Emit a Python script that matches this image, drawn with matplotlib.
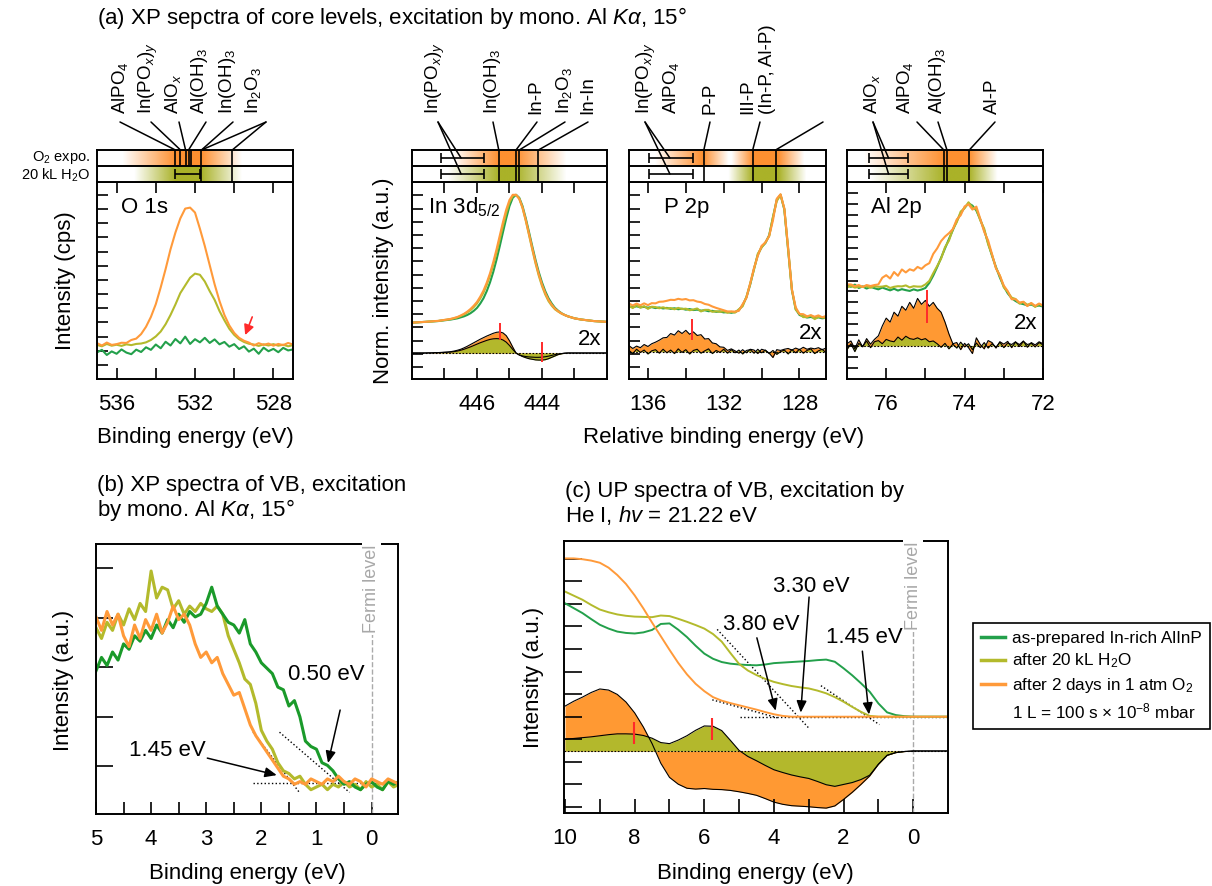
import numpy as np
import matplotlib
matplotlib.use('Agg')
import matplotlib.pyplot as plt
from matplotlib.colors import to_rgb
from matplotlib.lines import Line2D

plt.rcParams['font.family'] = ['Liberation Sans', 'DejaVu Sans']
plt.rcParams['mathtext.fontset'] = 'custom'
plt.rcParams['mathtext.rm'] = 'Liberation Sans'
plt.rcParams['mathtext.it'] = 'Liberation Sans:italic'
plt.rcParams['mathtext.bf'] = 'Liberation Sans:bold'
plt.rcParams['axes.linewidth'] = 1.4

GREEN = '#23a04b'
OLIVE = '#b3ba2c'
ORANGE = '#ff9a3a'
FILL_OR = '#ff9933'
FILL_OL = '#b3b82c'
RED = '#ff2a2a'
FS = 16

# ---------------- data: (a) core levels ----------------
o1s_E = np.linspace(537, 527, 41)
o1s_green = [13.5, 14.8, 12.2, 14.0, 12.8, 15.0, 13.4, 12.6, 14.9, 13.7, 16.1, 14.8, 17.5, 15.6, 18.9,
             17.0, 20.3, 18.1, 21.5, 17.8, 20.2, 18.6, 20.9, 18.3, 20.1, 17.6, 18.8, 16.4, 17.7, 15.2,
             16.6, 13.9, 15.4, 12.8, 15.9, 14.1, 15.3, 13.6, 15.8, 14.5, 15.0]
o1s_olive = [17.3, 16.6, 17.8, 16.9, 17.4, 16.8, 17.6, 17.2, 17.8, 18.0, 18.6, 19.8, 21.6, 24.1, 27.8,
             32.5, 37.8, 43.6, 47.5, 51.4, 53.5, 52.9, 49.5, 44.6, 40.2, 34.5, 29.8, 25.5, 22.4, 20.2,
             18.8, 17.9, 17.5, 16.8, 17.6, 17.0, 17.7, 16.9, 17.4, 16.6, 17.2]
o1s_orange = [18.2, 17.0, 18.5, 17.3, 17.7, 18.4, 18.3, 19.8, 20.5, 22.8, 26.5, 31.5, 38.0, 46.5, 55.8,
              65.8, 74.3, 81.5, 86.5, 87.0, 84.5, 76.3, 67.5, 57.8, 48.1, 39.6, 32.5, 27.2, 23.4, 20.9,
              19.4, 18.5, 17.0, 18.2, 17.3, 18.0, 16.9, 17.8, 17.2, 18.3, 17.5]

in_E = np.linspace(448, 442, 61)
in_green = [28.6, 28.7, 28.8, 28.9, 29.0, 29.1, 29.2, 29.3, 29.4, 29.6, 29.8, 30.0, 30.2, 30.5, 30.8,
            31.3, 31.8, 32.5, 33.4, 34.6, 36.1, 38.3, 41.0, 44.6, 49.0, 54.3, 60.5, 67.4, 74.6, 81.6,
            87.8, 92.0, 93.5, 92.0, 87.8, 81.6, 74.6, 67.4, 60.5, 54.3, 49.0, 44.6, 41.0, 38.3, 36.1,
            34.6, 33.4, 32.5, 31.8, 31.3, 30.8, 30.5, 30.2, 30.0, 29.8, 29.6, 29.4, 29.3, 29.2, 29.1, 29.0]
in_olive = [28.6, 28.7, 28.8, 28.9, 29.0, 29.1, 29.2, 29.35, 29.45, 29.7, 29.95, 30.2, 30.45, 30.85, 31.3,
            32.0, 32.75, 33.75, 34.95, 36.5, 38.35, 40.9, 43.9, 47.8, 52.45, 57.9, 64.15, 71.0, 77.9, 84.35,
            89.7, 92.9, 93.5, 91.5, 86.9, 80.4, 73.15, 65.8, 58.75, 52.5, 47.2, 42.9, 39.55, 37.2, 35.35,
            34.2, 33.2, 32.45, 31.8, 31.3, 30.8, 30.5, 30.2, 30.0, 29.8, 29.6, 29.4, 29.3, 29.2, 29.1, 29.0]
in_orange = [28.6, 28.7, 28.8, 28.9, 29.0, 29.15, 29.25, 29.4, 29.5, 29.75, 30.0, 30.25, 30.55, 31.0, 31.5,
             32.25, 33.1, 34.2, 35.55, 37.2, 39.15, 41.8, 44.9, 48.9, 53.65, 59.3, 65.75, 72.75, 79.7, 86.0,
             90.9, 93.5, 93.5, 91.5, 87.05, 80.7, 73.6, 66.35, 59.4, 53.2, 47.95, 43.65, 40.2, 37.7, 35.7,
             34.35, 33.25, 32.45, 31.8, 31.3, 30.8, 30.5, 30.2, 30.0, 29.8, 29.6, 29.4, 29.3, 29.2, 29.1, 29.0]

p_E = np.linspace(137, 126.6, 53)
p_green = [36.8, 36.5, 36.9, 36.4, 36.6, 36.2, 36.5, 36.0, 36.3, 35.8, 36.1, 35.6, 35.9, 35.4, 35.7,
           35.2, 35.5, 35.0, 35.2, 34.7, 34.9, 34.4, 34.6, 34.1, 34.3, 33.8, 34.0, 33.6, 34.0, 35.0,
           37.5, 41.5, 48.0, 56.0, 63.0, 67.0, 69.0, 73.0, 82.0, 91.0, 93.5, 86.0, 66.0, 45.0, 35.5,
           32.5, 31.8, 31.2, 31.5, 30.9, 31.3, 30.8, 31.1]
p_olive = [37.1, 36.0, 37.5, 36.2, 37.0, 35.6, 36.7, 36.5, 35.9, 36.4, 35.8, 36.0, 35.4, 36.1, 35.5,
           35.7, 34.9, 35.3, 35.8, 34.3, 35.1, 35.1, 34.1, 34.4, 34.1, 34.4, 33.6, 34.1, 33.7, 35.4,
           36.9, 41.8, 48.5, 55.6, 63.6, 66.7, 69.4, 72.5, 82.3, 90.3, 93.5, 86.4, 65.4, 45.5, 35.2,
           33.1, 31.4, 31.5, 32.2, 30.4, 31.5, 31.4, 30.8]
p_orange = [38.3, 37.3, 38.3, 37.4, 38.4, 37.5, 38.5, 38.4, 39.2, 39.3, 39.7, 40.2, 40.1, 40.7, 40.3,
            40.6, 39.9, 40.0, 39.3, 39.0, 38.1, 37.7, 36.8, 36.1, 35.5, 34.9, 34.3, 34.3, 34.2, 34.6,
            38.0, 41.2, 48.6, 56.4, 62.5, 67.6, 69.3, 72.6, 80.5, 91.5, 93.8, 86.6, 66.8, 45.4, 36.4,
            33.0, 32.9, 31.8, 32.4, 31.6, 32.3, 31.3, 32.0]

al_E = np.linspace(77, 72, 51)
al_green = [47.5, 46.8, 47.9, 46.2, 47.0, 45.9, 46.8, 46.1, 45.5, 46.4, 45.7, 45.0, 45.8, 44.9, 45.6,
            45.1, 44.7, 45.5, 44.9, 45.4, 46.2, 48.8, 52.5, 56.8, 61.5, 66.3, 71.0, 75.6, 80.2, 84.1,
            87.0, 89.2, 88.0, 85.5, 81.0, 75.5, 69.0, 62.5, 56.8, 51.5, 47.0, 43.5, 41.0, 39.6, 38.5,
            38.0, 37.4, 37.8, 36.9, 37.3, 36.8]
al_olive = [46.5, 47.3, 46.4, 46.8, 46.8, 47.1, 46.3, 47.1, 46.8, 46.9, 47.3, 46.2, 46.8, 47.1, 47.0,
            47.5, 46.5, 47.1, 46.9, 46.9, 48.0, 49.8, 53.7, 57.3, 61.1, 66.9, 70.2, 76.0, 79.6, 85.0,
            86.7, 89.7, 87.0, 86.2, 80.5, 76.3, 68.4, 63.0, 56.4, 52.4, 46.5, 44.2, 41.3, 40.6, 38.3,
            39.1, 37.7, 38.4, 36.6, 38.1, 37.0]
al_orange = [48.0, 48.0, 47.1, 47.7, 46.7, 47.7, 47.2, 47.7, 48.0, 51.4, 52.7, 51.0, 54.3, 52.4, 55.6,
             54.1, 55.7, 55.0, 56.9, 55.9, 57.7, 58.8, 63.5, 66.3, 70.0, 72.3, 74.0, 76.1, 81.0, 83.1,
             87.6, 88.7, 86.0, 87.5, 81.3, 74.7, 70.3, 63.3, 56.2, 52.5, 47.4, 44.6, 40.5, 40.5, 38.8,
             39.2, 37.0, 38.6, 37.1, 38.3, 37.3]

# ---------------- data: (b) XPS valence band ----------------
b_E = np.linspace(5.0, -0.5, 56)
b_green = [53, 58, 55, 60, 57, 63, 61, 66, 64, 68, 65, 70, 67, 72, 69, 74, 71, 75, 73, 74,
           78, 84, 77, 74, 71, 70, 67, 72, 63, 60, 56, 54, 52, 47, 46, 40, 42, 36, 27, 25,
           24, 19, 18, 16, 13, 11, 12, 10, 9, 11, 12, 10, 9, 12, 11, 12]
b_olive = [69, 65, 71, 68, 74, 70, 76, 72, 78, 75, 90, 80, 84, 83, 76, 79, 74, 77, 75, 78,
           76, 75, 77, 74, 66, 61, 56, 50, 48, 41, 31, 27, 24, 19, 16, 15, 13, 14, 11, 9,
           10, 11, 9, 11, 10, 12, 10, 11, 9, 12, 10, 11, 9, 12, 10, 11]
b_orange = [73, 68, 75, 70, 74, 66, 62, 70, 65, 72, 68, 74, 67, 71, 77, 72, 74, 70, 63, 58,
            60, 56, 58, 52, 48, 44, 45, 39, 33, 29, 26, 23, 20, 17, 14, 13, 11, 12, 11, 13,
            12, 11, 13, 12, 14, 12, 11, 13, 12, 10, 13, 12, 11, 13, 12, 11]
b_fits = [([2.15, -0.5], [11.5, 11.5]), ([2.15, 1.31], [30.3, 8.0]), ([1.67, 0.4], [30.3, 8.0])]

# ---------------- data: (c) UPS valence band ----------------
c_E = np.linspace(10, -1, 45)
c_green = [77.1, 75.3, 73.5, 71.3, 69.2, 67.8, 66.7, 66.2, 66.0, 66.4, 67.3, 69.5, 69.7, 67.4, 64.7,
           61.5, 58.6, 56.7, 55.5, 54.9, 54.6, 54.4, 54.3, 54.6, 55.1, 55.3, 55.5, 55.7, 55.9, 56.2,
           56.4, 55.6, 53.2, 50.6, 47.7, 44.6, 40.3, 37.0, 36.0, 35.6, 35.4, 35.4, 35.4, 35.4, 35.4]
c_olive = [81.4, 79.9, 78.4, 76.5, 74.8, 73.8, 73.0, 72.5, 72.2, 72.1, 72.0, 72.6, 72.4, 71.4, 70.3,
           69.1, 67.8, 65.8, 63.0, 58.8, 54.8, 52.4, 50.7, 49.3, 48.2, 47.4, 46.7, 46.2, 45.8, 45.0,
           44.0, 42.6, 40.9, 39.0, 37.2, 35.7, 35.4, 35.4, 35.4, 35.4, 35.4, 35.4, 35.4, 35.4, 35.4]
c_orange = [93.6, 93.6, 93.3, 92.8, 92.0, 90.2, 87.5, 84.2, 80.0, 75.2, 70.0, 65.0, 60.0, 55.2, 51.0,
            47.5, 44.8, 42.6, 41.3, 40.4, 39.6, 38.8, 38.0, 37.1, 36.3, 35.7, 35.4, 35.4, 35.4, 35.4,
            35.4, 35.4, 35.4, 35.4, 35.4, 35.4, 35.4, 35.4, 35.4, 35.4, 35.4, 35.4, 35.4, 35.4, 35.4]
c_fits = [([4.97, -0.97], [35.4, 35.4]), ([5.77, 3.9], [41.6, 35.0]),
          ([5.63, 2.99], [67.5, 31.1]), ([2.65, 0.97], [46.8, 32.5])]

W, H = 1212, 886
fig = plt.figure(figsize=(W / 100, H / 100), dpi=100)


def px_axes(l, t, r, b):
    return fig.add_axes([l / W, 1 - b / H, (r - l) / W, (b - t) / H])


def ftext(x, y, s, **kw):
    fig.text(x / W, 1 - y / H, s, **kw)


def core_panel(ax, E, g, v, o, xlim, xt, xl, yt):
    ax.plot(E, g, color=GREEN, lw=1.5)
    ax.plot(E, v, color=OLIVE, lw=1.5)
    ax.plot(E, o, color=ORANGE, lw=1.5)
    ax.set_xlim(*xlim)
    ax.set_ylim(0, 100)
    ax.set_xticks(xt)
    ax.set_xticklabels(xl)
    ax.set_yticks(yt)
    ax.set_yticklabels([])
    ax.tick_params(axis='x', direction='in', top=True, length=8, width=1.2, labelsize=FS, pad=11)
    ax.tick_params(axis='y', direction='in', length=8, width=1.2)


def diff_fill(ax, E, g, v, o, base, scale):
    d_or = base + scale * (np.array(o) - np.array(g))
    d_ol = base + scale * (np.array(v) - np.array(g))
    ax.fill_between(E, base, d_or, color=FILL_OR, lw=0)
    ax.plot(E, d_or, color='k', lw=0.8)
    ax.fill_between(E, base, d_ol, color=FILL_OL, lw=0)
    ax.plot(E, d_ol, color='k', lw=0.8)
    ax.axhline(base, color='k', ls=(0, (1.5, 1.5)), lw=0.8)


def strip(ax, xlim, top_bands, bot_bands, top_lines, bot_lines, bars):
    Eg = np.linspace(min(xlim), max(xlim), 600)
    for y0, y1, bands, col in ((1, 2, top_bands, '#ff9030'), (0, 1, bot_bands, '#aab228')):
        a = np.zeros_like(Eg)
        for b in bands:
            a = np.maximum(a, np.interp(Eg, b, [0, 1, 1, 0]))
        img = np.ones((1, Eg.size, 4))
        img[..., :3] = to_rgb(col)
        img[..., 3] = a
        ax.imshow(img, extent=(Eg[0], Eg[-1], y0, y1), aspect='auto', interpolation='bilinear')
    ax.axhline(1, color='k', lw=1.4)
    ax.vlines(top_lines, 1, 2, color='k', lw=1.2)
    ax.vlines(bot_lines, 0, 1, color='k', lw=1.2)
    for lo, hi, yc in bars:
        ax.errorbar((lo + hi) / 2, yc, xerr=(hi - lo) / 2, fmt='none', ecolor='k',
                    elinewidth=1.2, capsize=3.5, capthick=1.2)
    ax.set_xlim(*xlim)
    ax.set_ylim(0, 2)
    ax.set_xticks([])
    ax.set_yticks([])


def labels(ax, items):
    for text, tx, targets, lx in items:
        ftext(tx, 114, text, rotation=90, ha='center', va='bottom', fontsize=13.5, multialignment='left')
        for E, y in targets:
            ax.annotate('', xy=(E, y), xycoords='data', xytext=(lx / W, 1 - 122 / H),
                        textcoords='figure fraction', annotation_clip=False,
                        arrowprops=dict(arrowstyle='-', lw=1.1, color='k', shrinkA=0, shrinkB=0))


# ---------------- panel (a) ----------------
ftext(97, 18, '(a) XP sepctra of core levels, excitation by mono. Al $K\\alpha$, 15°', fontsize=FS, va='center')
ftext(90, 157, 'O$_2$ expo.', ha='right', va='center', fontsize=10.5)
ftext(90, 175, '20 kL H$_2$O', ha='right', va='center', fontsize=10.5)

ax1 = px_axes(97, 182, 293, 379)
core_panel(ax1, o1s_E, o1s_green, o1s_olive, o1s_orange, (537, 527), [536, 534, 532, 530, 528],
           ['536', '', '532', '', '528'], np.arange(7.1, 94, 7.2))
ax1.text(0.12, 0.87, 'O 1s', transform=ax1.transAxes, fontsize=FS, va='center')
ax1.annotate('', xy=(529.44, 22.3), xytext=(529.08, 31.5),
             arrowprops=dict(arrowstyle='-|>,head_length=0.6,head_width=0.3', color=RED, lw=1.2, shrinkA=0, shrinkB=0))
s1 = px_axes(97, 150, 293, 182)
strip(s1, (537, 527), [(529.6, 531.67, 533.0, 535.7)], [(529.6, 531.67, 533.0, 535.1)],
      [533.0, 532.74, 532.48, 532.33, 532.18, 531.67, 530.1], [531.67, 530.1],
      [(531.72, 533.0, 0.5)])
labels(s1, [('AlPO$_4$', 120, [(533.0, 2)], 120), ('In(PO$_x$)$_y$', 148, [(532.74, 2)], 151),
            ('AlO$_x$', 173, [(532.48, 2)], 179), ('Al(OH)$_3$', 200, [(532.33, 2)], 206),
            ('In(OH)$_3$', 227, [(531.67, 2)], 233), ('In$_2$O$_3$', 253, [(531.67, 2), (530.1, 2)], 266)])
ftext(66, 281, 'Intensity (cps)', rotation=90, ha='center', va='center', fontsize=FS)
ftext(195, 438, 'Binding energy (eV)', ha='center', va='center', fontsize=FS)

ax2 = px_axes(412, 182, 607, 379)
diff_fill(ax2, in_E, in_green, in_olive, in_orange, 13.2, 2)
core_panel(ax2, in_E, in_green, in_olive, in_orange, (448, 442), [447, 446, 445, 444, 443],
           ['', '446', '', '444', ''], np.arange(6.1, 94, 6.7))
ax2.vlines([445.3], 19.8, 28.4, color=RED, lw=1.4)
ax2.vlines([444.0], 8.6, 18.8, color=RED, lw=1.4)
ax2.text(0.08, 0.87, 'In 3d$_{5/2}$', transform=ax2.transAxes, fontsize=FS, va='center')
ax2.text(0.97, 0.2, '2x', transform=ax2.transAxes, fontsize=FS, va='center', ha='right')
s2 = px_axes(412, 150, 607, 182)
strip(s2, (448, 442), [(443.25, 444.8, 445.33, 446.72)], [(443.25, 444.8, 445.33, 446.9)],
      [445.33, 444.8, 444.7, 444.11], [445.33, 444.8, 444.7, 444.11],
      [(445.77, 447.1, 1.5), (445.77, 447.1, 0.5)])
labels(s2, [('In(PO$_x$)$_y$', 435, [(446.49, 1.5), (446.49, 0.5)], 438), ('In(OH)$_3$', 492, [(445.33, 2)], 493),
            ('In-P', 536, [(444.8, 2)], 537), ('In$_2$O$_3$', 564, [(444.7, 2)], 565),
            ('In-In', 588, [(444.11, 2)], 588)])
ftext(384, 281, 'Norm. intensity (a.u.)', rotation=90, ha='center', va='center', fontsize=FS)

ax3 = px_axes(629, 182, 826, 379)
diff_fill(ax3, p_E, p_green, p_olive, p_orange, 13.9, 2)
core_panel(ax3, p_E, p_green, p_olive, p_orange, (137, 126.6), [136, 134, 132, 130, 128],
           ['136', '', '132', '', '128'], np.arange(6.1, 94, 6.7))
ax3.vlines([133.7], 19.8, 30.5, color=RED, lw=1.4)
ax3.text(0.18, 0.87, 'P 2p', transform=ax3.transAxes, fontsize=FS, va='center')
ax3.text(0.98, 0.23, '2x', transform=ax3.transAxes, fontsize=FS, va='center', ha='right')
s3 = px_axes(629, 150, 826, 182)
strip(s3, (137, 126.6), [(131.74, 133.08, 133.12, 135.63), (127.74, 129.1, 130.47, 131.58)],
      [(127.63, 129.1, 130.47, 131.74)],
      [133.05, 130.47, 129.26], [133.05, 130.47, 129.26],
      [(133.63, 135.95, 1.5), (133.63, 135.95, 0.5)])
labels(s3, [('In(PO$_x$)$_y$\nAlPO$_4$', 658, [(134.84, 1.5), (134.84, 0.5)], 645),
            ('P-P', 710, [(133.05, 2)], 710), ('III-P\n(In-P, Al-P)', 758, [(130.47, 2)], 760),
            ('', 823, [(129.26, 2)], 823)])
ftext(724, 438, 'Relative binding energy (eV)', ha='center', va='center', fontsize=FS)

ax4 = px_axes(847, 182, 1043, 379)
diff_fill(ax4, al_E, al_green, al_olive, al_orange, 16.9, 2)
core_panel(ax4, al_E, al_green, al_olive, al_orange, (77, 72), [76, 75, 74, 73, 72],
           ['76', '', '74', '', '72'], np.arange(5.6, 95, 5.55))
ax4.vlines([74.95], 28.4, 45.0, color=RED, lw=1.4)
ax4.text(0.12, 0.87, 'Al 2p', transform=ax4.transAxes, fontsize=FS, va='center')
ax4.text(0.97, 0.28, '2x', transform=ax4.transAxes, fontsize=FS, va='center', ha='right')
s4 = px_axes(847, 150, 1043, 182)
strip(s4, (77, 72), [(73.16, 73.88, 74.53, 76.58)], [(73.16, 73.88, 74.53, 76.4)],
      [74.53, 74.45, 73.88], [74.53, 74.45, 73.88],
      [(75.44, 76.43, 1.5), (75.44, 76.43, 0.5)])
labels(s4, [('AlO$_x$', 872, [(75.94, 1.5), (75.94, 0.5)], 873), ('AlPO$_4$', 905, [(74.53, 2)], 917),
            ('Al(OH)$_3$', 938, [(74.45, 2)], 938), ('Al-P', 992, [(73.88, 2)], 995)])

ARROW = dict(arrowstyle='-|>,head_length=0.7,head_width=0.3', color='k', lw=1.1, shrinkA=0, shrinkB=0)

# ---------------- panel (b) ----------------
ftext(97, 499, '(b) XP spectra of VB, excitation\nby mono. Al $K\\alpha$, 15°', fontsize=FS,
      va='center', linespacing=1.1)
axb = px_axes(96, 544, 398, 814)
axb.axvline(0, color='#aaaaaa', ls='--', lw=1)
axb.text(0, 99.7, 'Fermi level', rotation=90, ha='center', va='top', color='#a8a8a8', fontsize=13,
         bbox=dict(facecolor='white', edgecolor='none', pad=1))
for xs, ys in b_fits:
    axb.plot(xs, ys, color='k', ls=':', lw=1)
axb.plot(b_E, b_olive, color=OLIVE, lw=2.2)
axb.plot(b_E, b_green, color='#1a9a2a', lw=2.2)
axb.plot(b_E, b_orange, color=ORANGE, lw=2.2)
axb.text(1.52, 51.5, '0.50 eV', fontsize=FS, va='center')
axb.annotate('', xy=(0.79, 18.9), xytext=(0.57, 38.5), arrowprops=ARROW)
axb.text(4.4, 23.7, '1.45 eV', fontsize=FS, va='center')
axb.annotate('', xy=(1.72, 14.4), xytext=(2.98, 20.7), arrowprops=ARROW)
axb.set_xlim(5.0, -0.48)
axb.set_ylim(0, 100)
axb.set_xticks([5, 4, 3, 2, 1, 0])
axb.set_xticks([4.5, 3.5, 2.5, 1.5, 0.5], minor=True)
axb.set_yticks([17.8, 36.1, 54.4, 72.7, 91.0])
axb.set_yticklabels([])
axb.tick_params(axis='x', which='both', direction='in', length=9, width=1.2, labelsize=FS, pad=11)
axb.tick_params(axis='y', direction='in', length=12, width=1.2)
ftext(64, 680, 'Intensity (a.u.)', rotation=90, ha='center', va='center', fontsize=FS)
ftext(247, 873, 'Binding energy (eV)', ha='center', va='center', fontsize=FS)

# ---------------- panel (c) ----------------
ftext(565, 504, '(c) UP spectra of VB, excitation by\nHe I, $hv$ = 21.22 eV', fontsize=FS,
      va='center', linespacing=1.1)
axc = px_axes(564, 541, 948, 813)
axc.axvline(0, color='#aaaaaa', ls='--', lw=1)
axc.text(0, 99.7, 'Fermi level', rotation=90, ha='center', va='top', color='#a8a8a8', fontsize=13,
         bbox=dict(facecolor='white', edgecolor='none', pad=1))
diff_fill(axc, c_E, c_green, c_olive, c_orange, 22.8, 1)
for xs, ys in c_fits:
    axc.plot(xs, ys, color='k', ls=':', lw=1)
axc.plot(c_E, c_green, color=GREEN, lw=1.4)
axc.plot(c_E, c_olive, color=OLIVE, lw=1.4)
axc.plot(c_E, c_orange, color=ORANGE, lw=1.4)
axc.vlines([8.03], 25.5, 33.5, color=RED, lw=1.5)
axc.vlines([5.77], 26.8, 34.8, color=RED, lw=1.5)
axc.text(2.94, 83.1, '3.30 eV', fontsize=FS, ha='center', va='center')
axc.annotate('', xy=(3.23, 36.9), xytext=(2.99, 79.4), arrowprops=ARROW)
axc.text(4.35, 69.3, '3.80 eV', fontsize=FS, ha='center', va='center')
axc.annotate('', xy=(3.95, 37.6), xytext=(4.49, 64.4), arrowprops=ARROW)
axc.text(1.41, 64.4, '1.45 eV', fontsize=FS, ha='center', va='center')
axc.annotate('', xy=(1.27, 36.2), xytext=(1.46, 59.5), arrowprops=ARROW)
axc.set_xlim(10.03, -1.0)
axc.set_ylim(0, 100)
axc.set_xticks(np.arange(10, -1, -1))
axc.set_xticklabels(['10', '', '8', '', '6', '', '4', '', '2', '', '0'])
axc.set_yticks(np.arange(2.2, 94, 8.3))
axc.set_yticklabels([])
axc.tick_params(axis='x', direction='in', length=10, width=1.2, labelsize=FS, pad=11)
axc.tick_params(axis='y', direction='in', length=13, width=1.2)
ftext(534, 677, 'Intensity (a.u.)', rotation=90, ha='center', va='center', fontsize=FS)
ftext(755, 873, 'Binding energy (eV)', ha='center', va='center', fontsize=FS)

# ---------------- legend ----------------
handles = [Line2D([], [], color=GREEN, lw=2.5), Line2D([], [], color=OLIVE, lw=2.5),
           Line2D([], [], color=ORANGE, lw=2.5), Line2D([], [], color='none')]
leg = fig.legend(handles, ['as-prepared In-rich AlInP', 'after 20 kL H$_2$O', 'after 2 days in 1 atm O$_2$',
                           '1 L = 100 s × 10$^{-8}$ mbar'],
                 loc='upper left', bbox_to_anchor=(973 / W, 1 - 623 / H), fontsize=12.3, frameon=True,
                 fancybox=False, edgecolor='k', framealpha=1, borderpad=0.45, handlelength=1.4,
                 handletextpad=0.45, labelspacing=0.35, borderaxespad=0)
leg.get_frame().set_linewidth(1.2)

fig.savefig('out.png', dpi=100)
